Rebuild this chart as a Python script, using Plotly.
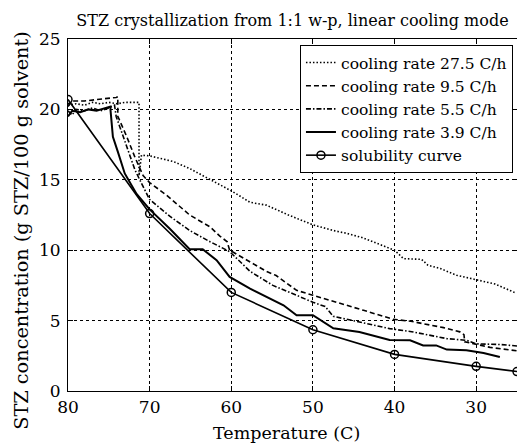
import plotly.graph_objects as go

# Temperature (C) and STZ concentration (g STZ/100 g solvent) for each cooling run
t_275 = [80, 79.0, 78.0, 77.0, 76.0, 75.0, 74.0, 73.0, 72.0, 71.3, 71.3, 71.0, 70.0, 68.5,
         67.1, 65.1, 63.8, 61.8, 59.8, 57.7, 55.7, 53.0, 50.0, 47.5, 45.9, 44.0, 42.6, 40.0,
         38.9, 36.7, 35.9, 34.4, 32.4, 30.0, 27.7, 26.5, 25.3]
c_275 = [20.3, 20.4, 20.3, 20.5, 20.4, 20.5, 20.4, 20.5, 20.5, 20.5, 15.3, 16.75, 16.7, 16.5,
         16.3, 15.8, 15.4, 14.8, 14.15, 13.4, 13.2, 12.5, 11.8, 11.4, 11.2, 10.9, 10.6, 10.0,
         9.4, 9.35, 8.93, 8.7, 8.22, 7.9, 7.6, 7.3, 7.0]

t_95 = [80, 79.5, 78.0, 76.5, 75.0, 74.1, 73.9, 73.9, 73.7, 72.8, 71.8, 70.8, 70.0, 67.9,
        65.1, 62.6, 61.4, 60.5, 60.2, 57.7, 55.7, 54.5, 52.0, 50.0, 47.1, 43.8, 41.8, 40.2,
        38.0, 36.5, 34.0, 32.0, 31.5, 31.4, 30.0, 28.3, 25.0]
c_95 = [20.2, 20.6, 20.6, 20.7, 20.75, 20.85, 20.9, 19.5, 19.25, 18.06, 16.6, 15.3, 14.8, 13.9,
        12.5, 11.66, 11.0, 10.6, 10.0, 9.2, 8.5, 8.2, 7.15, 6.8, 6.32, 5.73, 5.38, 5.1,
        4.95, 4.8, 4.5, 4.2, 4.0, 3.5, 3.3, 3.1, 2.85]

t_55 = [80, 79.5, 79.0, 78.0, 77.0, 76.0, 75.0, 74.3, 74.1, 73.5, 72.6, 71.8, 71.0, 70.0,
        67.5, 65.1, 62.6, 60.2, 57.7, 54.9, 52.0, 50.0, 48.5, 47.5, 44.3, 41.8, 40.6, 37.7,
        33.6, 31.2, 30.0, 27.0, 25.0]
c_55 = [19.9, 19.6, 20.0, 19.9, 20.1, 19.9, 20.1, 20.3, 19.5, 18.5, 16.9, 15.7, 14.75, 13.6,
        12.4, 11.4, 10.6, 9.9, 8.5, 7.5, 6.8, 6.3, 6.0, 5.3, 4.9, 4.55, 4.43, 4.19,
        3.72, 3.6, 3.35, 3.3, 3.2]

t_39 = [80, 79.5, 78.5, 77.5, 76.5, 75.5, 74.8, 74.8, 74.5, 73.9, 73.05, 71.6, 70.0, 67.5,
        65.1, 63.5, 61.8, 60.2, 57.7, 53.6, 52.0, 50.0, 47.5, 44.3, 40.6, 38.1, 36.5, 34.9,
        33.6, 31.2, 29.1, 27.1]
c_39 = [19.5, 19.9, 19.8, 20.0, 19.9, 20.1, 20.2, 20.0, 18.06, 17.0, 15.45, 14.0, 12.9, 11.5,
        10.07, 10.07, 9.29, 8.1, 7.27, 6.09, 5.38, 5.38, 4.45, 4.19, 3.63, 3.6, 3.24, 3.24,
        2.94, 2.89, 2.7, 2.41]

t_sol = [80, 70, 60, 50, 40, 30, 25]
c_sol = [20.7, 12.6, 7.0, 4.35, 2.6, 1.75, 1.38]

x_ticks = [80, 70, 60, 50, 40, 30]
y_ticks = [0, 5, 10, 15, 20, 25]

FONT = "DejaVu Serif"

fig = go.Figure()
fig.add_trace(go.Scatter(x=t_275, y=c_275, mode="lines", name="cooling rate 27.5 C/h",
                         line=dict(color="black", width=1.6, dash="1.5px,2px")))
fig.add_trace(go.Scatter(x=t_95, y=c_95, mode="lines", name="cooling rate 9.5 C/h",
                         line=dict(color="black", width=1.6, dash="5px,3px")))
fig.add_trace(go.Scatter(x=t_55, y=c_55, mode="lines", name="cooling rate 5.5 C/h",
                         line=dict(color="black", width=1.6, dash="5px,2px,1.5px,2px")))
fig.add_trace(go.Scatter(x=t_39, y=c_39, mode="lines", name="cooling rate 3.9 C/h",
                         line=dict(color="black", width=2)))
fig.add_trace(go.Scatter(x=t_sol, y=c_sol, mode="lines+markers", name="solubility curve",
                         line=dict(color="black", width=1.6),
                         marker=dict(symbol="circle-open", size=8, color="black",
                                     line=dict(width=1.5, color="black"))))

axis_common = dict(
    showline=True, linecolor="black", linewidth=1, mirror="ticks",
    ticks="inside", ticklen=5, tickcolor="black",
    showgrid=True, gridcolor="black", gridwidth=1, griddash="3px,3px",
    zeroline=False, tickfont=dict(family=FONT, size=17, color="black"),
    automargin=False,
)

fig.update_layout(
    width=517, height=446,
    margin=dict(l=68, r=0, t=39, b=55),
    paper_bgcolor="white", plot_bgcolor="white",
    font=dict(family=FONT, color="black"),
    title=dict(text="STZ crystallization from 1:1 w-p, linear cooling mode",
               x=0.5, xref="paper", xanchor="center",
               y=1 - 20 / 446, yref="container", yanchor="middle",
               font=dict(family=FONT, size=16, color="black")),
    xaxis=dict(range=[80, 25], tickvals=x_ticks, ticklabelstandoff=1, **axis_common),
    yaxis=dict(range=[0, 25], tickvals=y_ticks, ticklabelstandoff=3, **axis_common),
    legend=dict(x=0.991, y=0.983, xanchor="right", yanchor="top",
                bgcolor="white", bordercolor="black", borderwidth=1,
                font=dict(family=FONT, size=15.5, color="black"),
                itemwidth=30, tracegroupgap=0),
    showlegend=True,
    annotations=[
        dict(text="Temperature (C)", xref="paper", yref="paper",
             x=0.487, y=-0.119, xanchor="center", yanchor="middle", showarrow=False,
             font=dict(family=FONT, size=17.5, color="black")),
        dict(text="STZ concentration (g STZ/100 g solvent)", xref="paper", yref="paper",
             x=-0.104, y=0.456, xanchor="center", yanchor="middle", showarrow=False,
             textangle=-90, font=dict(family=FONT, size=19.3, color="black")),
    ],
)

fig.write_html("out.html")
